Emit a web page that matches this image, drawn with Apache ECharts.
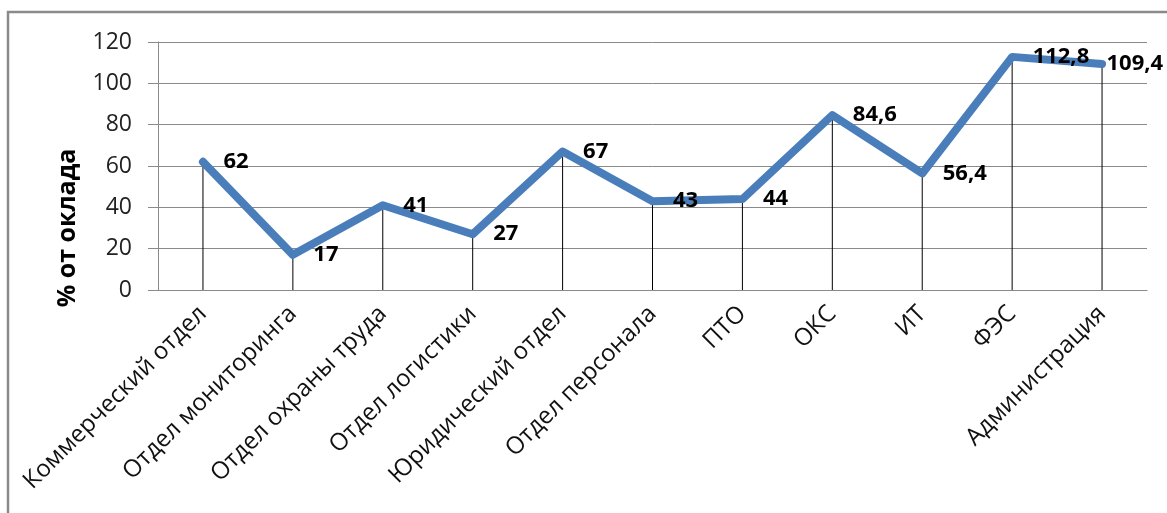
<!DOCTYPE html>
<html>
<head>
<meta charset="utf-8">
<script src="https://cdn.jsdelivr.net/npm/echarts@6/dist/echarts.min.js"></script>
<style>
  html, body { margin: 0; padding: 0; background: #fff; }
  #chart { width: 1167px; height: 513px; }
</style>
</head>
<body>
<div id="chart"></div>
<script>
var categories = ['Коммерческий отдел', 'Отдел мониторинга', 'Отдел охраны труда', 'Отдел логистики',
  'Юридический отдел', 'Отдел персонала', 'ПТО', 'ОКС', 'ИТ', 'ФЭС', 'Администрация'];
var values = [62, 17, 41, 27, 67, 43, 44, 84.6, 56.4, 112.8, 109.4];
var yTicks = [0, 20, 40, 60, 80, 100, 120];

var font = '"Open Sans", Lato, sans-serif';
var chart = echarts.init(document.getElementById('chart'));

var lineData = values.map(function(v, i) {
  var item = { value: v };
  // last label sits closer to its point
  if (i === values.length - 1) item.label = { distance: 4 };
  return item;
});

var option = {
  animation: false,
  backgroundColor: '#fff',
  graphic: [{
    type: 'rect',
    shape: { x: 8, y: 12, width: 1200, height: 600 },
    style: { fill: 'none', stroke: '#8a8a8a', lineWidth: 2.5 }
  }, {
    type: 'text',
    x: 68, y: 228,
    rotation: Math.PI / 2,
    style: {
      text: '% от оклада',
      font: 'bold 25px ' + font,
      fill: '#000',
      align: 'center',
      verticalAlign: 'middle'
    }
  }],
  grid: { left: 158, right: 20, top: 42, bottom: 223 },
  xAxis: {
    type: 'category',
    data: categories,
    boundaryGap: true,
    axisLine: { lineStyle: { color: '#8a8a8a', width: 1 } },
    axisTick: { show: false },
    axisLabel: {
      rotate: 45,
      interval: 0,
      margin: 20,
      fontFamily: font,
      fontSize: 24,
      color: '#111'
    }
  },
  yAxis: {
    type: 'value',
    min: yTicks[0],
    max: yTicks[yTicks.length - 1],
    interval: 20,
    axisLine: { show: true, lineStyle: { color: '#8a8a8a', width: 1 } },
    axisTick: { show: true, inside: false, length: 10, lineStyle: { color: '#8a8a8a' } },
    splitLine: { lineStyle: { color: '#8a8a8a', width: 1 } },
    axisLabel: {
      margin: 26,
      fontFamily: font,
      fontSize: 23,
      color: '#222'
    }
  },
  series: [{
    name: 'drop',
    type: 'bar',
    data: values,
    barWidth: 1,
    itemStyle: { color: '#000' },
    z: 1,
    silent: true
  }, {
    name: '% от оклада',
    type: 'line',
    data: lineData,
    symbol: 'circle',
    symbolSize: 1,
    showSymbol: true,
    itemStyle: { color: '#4a7ebb' },
    z: 3,
    lineStyle: { color: '#4a7ebb', width: 8, join: 'round', cap: 'round' },
    label: {
      show: true,
      position: 'right',
      distance: 20,
      fontFamily: font,
      fontSize: 22,
      fontWeight: 'bold',
      color: '#000',
      formatter: function(p) { return String(p.value).replace('.', ','); }
    }
  }]
};

chart.setOption(option);
</script>
</body>
</html>
